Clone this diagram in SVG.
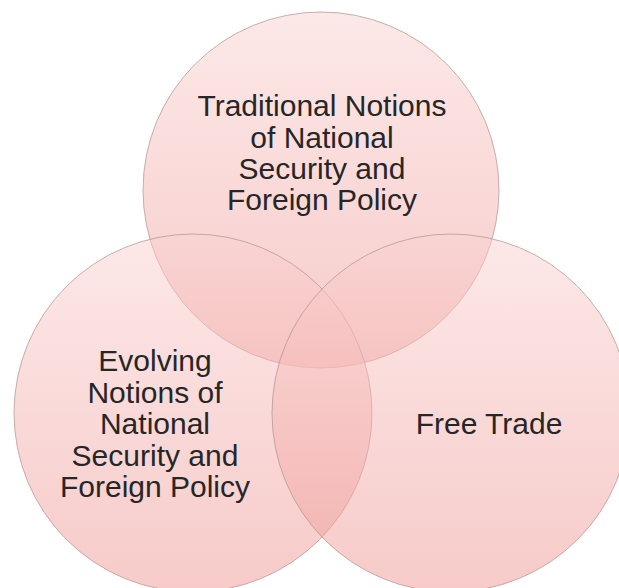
<svg xmlns="http://www.w3.org/2000/svg" width="619" height="588" viewBox="0 0 619 588">
  <defs>
    <linearGradient id="g" x1="0" y1="0" x2="0" y2="1">
      <stop offset="0" stop-color="#f9d2d1"/>
      <stop offset="1" stop-color="#ee9793"/>
    </linearGradient>
  </defs>
  <style>
    .c { fill: url(#g); fill-opacity: 0.5; stroke: #b0908f; stroke-opacity: 0.7; stroke-width: 1; }
    .t { font-family: "Liberation Sans", Arial, sans-serif; font-size: 30px; fill: #262626; text-anchor: middle; }
  </style>
  <rect width="619" height="588" fill="#ffffff"/>
  <g id="traditional">
    <circle class="c" cx="321" cy="190" r="178"/>
    <text class="t"><tspan x="322" y="116">Traditional Notions</tspan><tspan x="322" y="148">of National</tspan><tspan x="322" y="179">Security and</tspan><tspan x="322" y="210">Foreign Policy</tspan></text>
  </g>
  <g id="evolving">
    <circle class="c" cx="193" cy="413" r="179"/>
    <text class="t"><tspan x="155" y="371">Evolving</tspan><tspan x="155" y="403">Notions of</tspan><tspan x="155" y="434">National</tspan><tspan x="155" y="466">Security and</tspan><tspan x="155" y="497">Foreign Policy</tspan></text>
  </g>
  <g id="freetrade">
    <circle class="c" cx="451" cy="413" r="179"/>
    <text class="t"><tspan x="489" y="434">Free Trade</tspan></text>
  </g>
  <g id="connectors"/>
</svg>
